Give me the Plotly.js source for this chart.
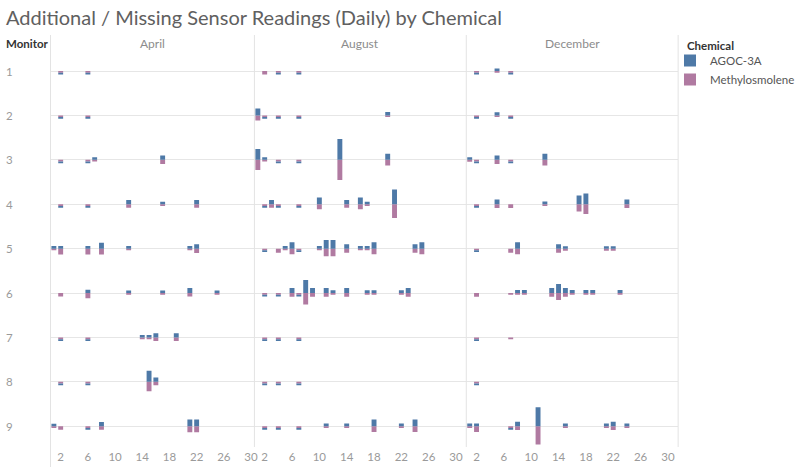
<!DOCTYPE html>
<html><head><meta charset="utf-8">
<script src="https://cdn.plot.ly/plotly-3.0.1.min.js"></script>
<style>html,body{margin:0;padding:0;background:#fff}#chart{width:800px;height:467px}</style>
</head><body><div id="chart"></div>
<script>
const months = ['April', 'August', 'December'];
const monthDays = [30, 31, 31];
const monitors = [1, 2, 3, 4, 5, 6, 7, 8, 9];
const chemicals = ['AGOC-3A', 'Methylosmolene'];
const chemColors = ['#4e79a7', '#b07aa1'];
const dayTicks = [2, 6, 10, 14, 18, 22, 26, 30];

// [monitor, day, AGOC-3A, Methylosmolene]  (positive = additional, negative = missing)
const aprilReadings = [
  [1,2,-1,-1],[1,6,-1,-1],
  [2,2,-1,-1],[2,6,-1,-1],
  [3,2,-1,-1],[3,6,-1,-1],[3,7,1.5,-1],[3,17,2.5,-2.5],
  [4,2,-1,-1],[4,6,-1,-1],[4,12,2.5,-2],[4,17,1.5,-1],[4,22,2.5,-2],
  [5,1,1.5,-1],[5,2,1.5,-3.5],[5,6,1.5,-3.5],[5,8,3.5,-3.5],[5,12,1.5,-1],[5,21,1.5,-1],[5,22,2.5,-2.5],
  [6,2,0,-2],[6,6,2,-3],[6,12,1.5,-1],[6,17,1.5,-1],[6,21,3,-2],[6,25,1.5,-1],
  [7,2,-1,-1],[7,6,-1,-1],[7,14,1.5,-1],[7,15,1.5,-1],[7,16,2.5,-2],[7,19,2.5,-2],
  [8,2,-1,-1],[8,6,-1,-1],[8,15,6.5,-5.5],[8,16,2.5,-2],
  [9,1,1.5,-1],[9,2,0,-2],[9,6,-1,-1],[9,8,2.5,-2],[9,21,4,-3.5],[9,22,4,-3.5]
];
const augustReadings = [
  [1,2,0,-2],[1,4,-1,-1],[1,7,-1,-1],
  [2,1,4,-3],[2,2,-1,-1],[2,4,-1,-1],[2,7,-1,-1],[2,20,2,-1],
  [3,1,6.3,-6],[3,2,1.5,-1],[3,4,-1,-1],[3,7,-1,-1],[3,13,12.2,-11.8],[3,20,3.5,-3.3],
  [4,2,-1,-1],[4,3,2.5,-2],[4,4,-1,-1],[4,7,-1,-1],[4,10,4,-3],[4,14,2.5,-2],[4,16,4,-3],[4,17,1.5,-1],[4,21,8.6,-8],
  [5,2,-1,-1],[5,4,0,-2.4],[5,5,1.5,-1],[5,6,3.7,-3.3],[5,7,-1,-1],[5,10,1.5,-1],[5,11,5,-4.5],[5,12,5,-4.5],
  [5,14,2.5,-2.4],[5,16,1.5,-1],[5,17,1.5,-1],[5,18,3.7,-3.3],[5,24,2.5,-2.4],[5,25,3.7,-3.3],
  [6,2,-1,-1],[6,4,-1,-1],[6,6,3,-2.2],[6,7,-1,-1],[6,8,7.6,-6.7],[6,9,3,-2.2],[6,11,3,-2.2],[6,12,1.6,-1],
  [6,14,3,-2.2],[6,17,1.6,-1],[6,18,1.6,-1],[6,22,1.6,-1],[6,23,3,-2.2],
  [7,2,-1,-1],[7,4,-1,-1],[7,7,-1,-1],
  [8,2,-1,-1],[8,4,-1,-1],[8,7,-1,-1],
  [9,2,-1,-1],[9,4,-1,-1],[9,7,-1,-1],[9,11,1.6,-1],[9,14,1.6,-1],[9,18,3.9,-3.3],[9,22,1.6,-1],[9,24,3.9,-3.3]
];
const decemberReadings = [
  [1,2,-1,-1],[1,5,1.5,-1],[1,7,-1,-1],
  [2,2,-1,-1],[2,5,1.8,-1],[2,7,-1,-1],
  [3,1,1.5,-1.2],[3,2,-1,-1],[3,5,2.5,-2.4],[3,7,-1,-1],[3,12,3.5,-3.3],
  [4,2,-1,-1],[4,5,2.7,-2.2],[4,7,0,-2.2],[4,12,1.6,-1],[4,17,5.1,-4.3],[4,18,6.3,-5.7],[4,24,2.7,-2.2],
  [5,2,-1,-1],[5,7,0,-2.4],[5,8,3.7,-3.3],[5,14,2.5,-2.4],[5,15,1.4,-1.2],[5,21,1.4,-1.2],[5,22,1.4,-1.2],
  [6,2,0,-2.2],[6,7,0,-1],[6,8,1.8,-1],[6,9,1.8,-1],[6,13,2.9,-2.2],[6,14,5.3,-4.1],[6,15,2.9,-2.2],
  [6,16,1.8,-1],[6,18,1.8,-1],[6,19,1.8,-1],[6,23,1.8,-1],
  [7,2,-1,-1],[7,7,0,-1],
  [8,2,-1,-1],
  [9,1,1.6,-1],[9,2,1.6,-3.3],[9,7,-1,-1],[9,8,2.7,-2.2],[9,11,11.2,-10.6],[9,15,1.6,-1],[9,21,1.6,-1],[9,22,2.7,-2.2],[9,24,1.6,-1]
];

const readings = [aprilReadings, augustReadings, decemberReadings];

const W = 800, H = 467;
const px = x => x / W, py = y => 1 - y / H;
const colEdges = [51, 257, 471, 685];
const rowTop = 48.8, rowH = 44.41;
const FONT = 'Lato, "Open Sans", sans-serif';

const traces = [];
months.forEach((mName, mi) => {
  const xa = mi === 0 ? 'x' : 'x' + (mi + 1);
  monitors.forEach((mon, ri) => {
    const ya = ri === 0 ? 'y' : 'y' + (ri + 1);
    const rows = readings[mi].filter(r => r[0] === mon);
    const days = rows.map(r => r[1]);
    [1, 0].forEach(ci => { // Methylosmolene first so it stacks next to the zero line
      traces.push({
        type: 'bar', x: days, y: rows.map(r => r[2 + ci]),
        xaxis: xa, yaxis: ya, width: 0.72,
        name: chemicals[ci], legendgroup: chemicals[ci], legendrank: ci + 1,
        showlegend: mi === 0 && ri === 0,
        marker: {color: chemColors[ci], line: {width: 0}},
        hoverinfo: 'skip'
      });
    });
  });
});

const layout = {
  width: W, height: H,
  margin: {l: 0, r: 0, t: 0, b: 0},
  paper_bgcolor: '#ffffff', plot_bgcolor: 'rgba(0,0,0,0)',
  barmode: 'relative',
  font: {family: FONT, color: '#666'},
  title: {text: 'Additional / Missing Sensor Readings (Daily) by Chemical',
          x: px(6), xref: 'paper', xanchor: 'left', y: py(18), yref: 'paper', yanchor: 'middle',
          font: {family: FONT, size: 20, color: '#606060'}},
  showlegend: true,
  legend: {x: px(677), y: py(46), xanchor: 'left', yanchor: 'top', tracegroupgap: 0,
           font: {family: FONT, size: 11.5, color: '#555'}, bgcolor: 'rgba(0,0,0,0)'},
  annotations: [], shapes: []
};

months.forEach((m, mi) => {
  const key = mi === 0 ? 'xaxis' : 'xaxis' + (mi + 1);
  layout[key] = {
    domain: [px(colEdges[mi]), px(colEdges[mi + 1])],
    range: [0.5, monthDays[mi] + 0.5], anchor: 'y9',
    tickmode: 'array', tickvals: dayTicks, ticks: '',
    showgrid: false, zeroline: false, showline: false, fixedrange: true,
    tickfont: {family: FONT, size: 11.5, color: '#9a9a9a'}
  };
  layout.annotations.push({
    xref: (mi === 0 ? 'x' : 'x' + (mi + 1)) + ' domain', x: 0.5, yref: 'paper', y: py(43),
    text: m, showarrow: false, xanchor: 'center', yanchor: 'middle',
    font: {family: FONT, size: 12, color: '#8c8c8c'}
  });
  layout.shapes.push({
    type: 'line', xref: (mi === 0 ? 'x' : 'x' + (mi + 1)) + ' domain', x0: 0, x1: 0,
    yref: 'paper', y0: py(mi === 0 ? 467 : 447), y1: py(35),
    line: {color: '#e3e3e3', width: 1}
  });
});
layout.shapes.push({
  type: 'line', xref: 'x3 domain', x0: 1, x1: 1, yref: 'paper', y0: py(447), y1: py(35),
  line: {color: '#e3e3e3', width: 1}
});

monitors.forEach((mon, ri) => {
  const key = ri === 0 ? 'yaxis' : 'yaxis' + (ri + 1);
  const top = rowTop + ri * rowH;
  layout[key] = {
    domain: [py(top + rowH), py(top)], range: [-13, 13], anchor: 'x',
    showticklabels: false, showgrid: false, showline: false, fixedrange: true,
    zeroline: true, zerolinecolor: '#e6e6e6', zerolinewidth: 1
  };
  layout.annotations.push({
    xref: 'paper', x: px(4), xanchor: 'left', yref: ri === 0 ? 'y' : 'y' + (ri + 1), y: 0, yanchor: 'middle',
    text: String(mon), showarrow: false, font: {family: FONT, size: 11.5, color: '#9a9a9a'}
  });
});

layout.annotations.push({
  xref: 'paper', x: px(4), xanchor: 'left', yref: 'paper', y: py(43), yanchor: 'middle',
  text: '<b>Monitor</b>', showarrow: false, font: {family: FONT, size: 11.5, color: '#333'}
});
layout.annotations.push({
  xref: 'paper', x: px(692), xanchor: 'left', yref: 'paper', y: py(45), yanchor: 'middle',
  text: '<b>Chemical</b>', showarrow: false, font: {family: FONT, size: 11.5, color: '#333'}
});

Plotly.newPlot('chart', traces, layout, {displayModeBar: false, staticPlot: true});
</script>
</body></html>
